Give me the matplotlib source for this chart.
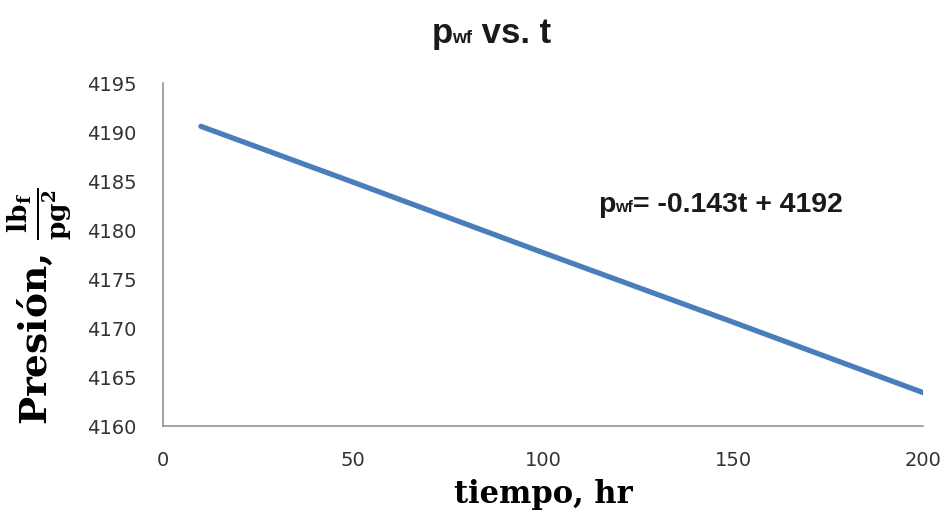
import numpy as np
import matplotlib
matplotlib.use("Agg")
import matplotlib.pyplot as plt
from matplotlib.offsetbox import TextArea, HPacker, AnchoredOffsetbox

# datos
t_hr = [10, 50, 100, 150, 200]
p_wf = [4190.6, 4184.9, 4177.7, 4170.6, 4163.4]
x_ticks = [0, 50, 100, 150, 200]
y_ticks = [4160, 4165, 4170, 4175, 4180, 4185, 4190, 4195]

plt.rcParams["mathtext.fontset"] = "dejavuserif"

fig = plt.figure(figsize=(9.47, 5.17), dpi=100)
ax = fig.add_axes([0.172, 0.176, 0.803, 0.663])

ax.plot(t_hr, p_wf, color="#4a7ebb", linewidth=3.8, solid_capstyle="round")

ax.set_xlim(0, 200)
ax.set_ylim(4160, 4195)
ax.set_xticks(x_ticks)
ax.set_yticks(y_ticks)
ax.tick_params(axis="both", length=0, labelsize=14, labelcolor="#333333")
ax.tick_params(axis="y", pad=19)
ax.tick_params(axis="x", pad=18)

for s in ["top", "right"]:
    ax.spines[s].set_visible(False)
for s in ["left", "bottom"]:
    ax.spines[s].set_color("#8a8a8a")
    ax.spines[s].set_linewidth(1.1)

# etiquetas de ejes
ax.text(0.5, -0.2, "tiempo, hr", transform=ax.transAxes, ha="center", va="center",
        family="DejaVu Serif", fontweight="bold", fontsize=22)
ax.text(-0.163, 0.35, r"Presión, $\mathbf{\frac{lb_f}{pg^2}}$",
        transform=ax.transAxes, rotation=90, ha="center", va="center",
        family="DejaVu Serif", fontweight="bold", fontsize=27)


def rich_text(parts, x, y):
    kids = [TextArea(s, textprops=dict(family="Liberation Sans", fontweight="bold",
                                       fontsize=fs, color="#1a1a1a"))
            for s, fs in parts]
    box = HPacker(children=kids, align="baseline", pad=0, sep=0)
    anc = AnchoredOffsetbox(loc="center", child=box, frameon=False, pad=0, borderpad=0,
                            bbox_to_anchor=(x, y), bbox_transform=fig.transFigure)
    ax.add_artist(anc)


rich_text([("p", 25), ("wf", 13), (" vs. t", 25)], 0.519, 0.935)
rich_text([("p", 20.5), ("wf", 11.5), ("= -0.143t + 4192", 20.5)], 0.761, 0.603)

fig.savefig("out.png", dpi=100)
